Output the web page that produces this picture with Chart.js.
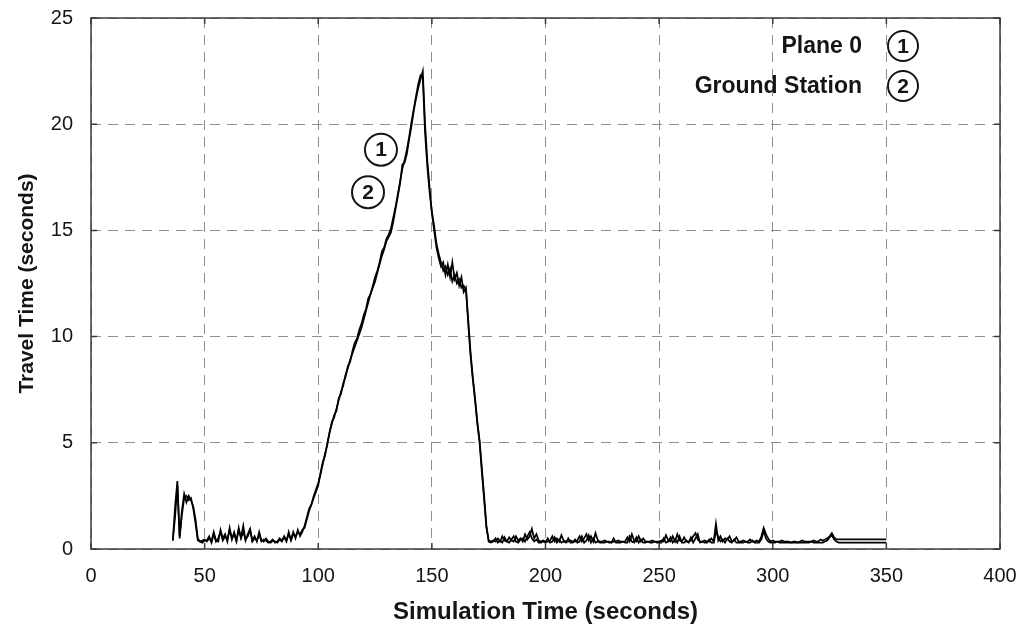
<!DOCTYPE html>
<html>
<head>
<meta charset="utf-8">
<script src="https://cdn.jsdelivr.net/npm/chart.js@4/dist/chart.umd.min.js"></script>
<style>
    html, body { margin: 0; padding: 0; background: #fff; }
    #chart { display: block; }
</style>
</head>
<body>
<canvas id="chart" width="1024" height="632"></canvas>
<script>
// one sample per second, first sample at T_START seconds
const T_START = 36;

const PLANE_0 = [
    0.4, 2.0, 3.2, 0.6, 1.8, 2.6, 2.2, 2.5, 2.3, 2.0,
    1.4, 0.5, 0.35, 0.4, 0.45, 0.35, 0.5, 0.35, 0.8, 0.4,
    0.35, 0.9, 0.5, 0.7, 0.35, 1.0, 0.45, 0.8, 0.4, 0.9,
    0.55, 1.1, 0.4, 0.7, 0.95, 0.4, 0.6, 0.35, 0.8, 0.4,
    0.35, 0.5, 0.35, 0.3, 0.4, 0.35, 0.3, 0.45, 0.35, 0.6,
    0.4, 0.7, 0.45, 0.8, 0.5, 0.9, 0.6, 0.8, 1.1, 1.5,
    1.9, 2.1, 2.5, 2.8, 3.1, 3.5, 4.0, 4.5, 4.9, 5.5,
    6.0, 6.2, 6.6, 7.0, 7.4, 7.7, 8.2, 8.5, 8.9, 9.2,
    9.5, 9.8, 10.1, 10.4, 10.8, 11.2, 11.6, 12.0, 12.3, 12.6,
    13.0, 13.4, 13.8, 14.1, 14.5, 14.7, 14.9, 15.4, 16.0, 16.6,
    17.2, 18.1, 18.2, 18.6, 19.3, 19.9, 20.6, 21.2, 21.7, 22.1,
    22.5, 20.0, 18.3, 17.0, 15.8, 15.0, 14.2, 13.7, 13.3, 13.5,
    12.9, 13.4, 12.8, 13.5, 12.7, 13.0, 12.4, 12.8, 12.1, 12.3,
    10.6, 9.1, 8.0, 7.0, 5.9, 5.0, 3.6, 2.3, 1.0, 0.4,
    0.35, 0.4, 0.35, 0.5, 0.35, 0.6, 0.4, 0.35, 0.55, 0.4,
    0.35, 0.6, 0.4, 0.5, 0.35, 0.7, 0.45, 0.6, 0.95, 0.5,
    0.7, 0.4, 0.35, 0.4, 0.35, 0.35, 0.4, 0.6, 0.35, 0.5,
    0.35, 0.65, 0.4, 0.35, 0.35, 0.4, 0.35, 0.35, 0.4, 0.6,
    0.35, 0.5, 0.7, 0.4, 0.6, 0.35, 0.75, 0.4, 0.35, 0.35,
    0.4, 0.35, 0.35, 0.3, 0.35, 0.35, 0.4, 0.35, 0.35, 0.35,
    0.55, 0.35, 0.7, 0.4, 0.35, 0.6, 0.35, 0.5, 0.35, 0.35,
    0.35, 0.4, 0.35, 0.35, 0.35, 0.4, 0.35, 0.65, 0.4, 0.35,
    0.6, 0.35, 0.7, 0.4, 0.35, 0.55, 0.35, 0.35, 0.4, 0.6,
    0.75, 0.45, 0.35, 0.35, 0.4, 0.35, 0.35, 0.5, 0.35, 1.2,
    0.4, 0.6, 0.35, 0.5, 0.45, 0.6, 0.35, 0.4, 0.55, 0.35,
    0.35, 0.4, 0.35, 0.35, 0.45, 0.35, 0.35, 0.4, 0.35, 0.6,
    1.0, 0.7, 0.5, 0.35, 0.4, 0.35, 0.35, 0.35, 0.4, 0.35,
    0.35, 0.35, 0.3, 0.35, 0.35, 0.3, 0.35, 0.4, 0.35, 0.35,
    0.35, 0.35, 0.4, 0.35, 0.35, 0.45, 0.4, 0.45, 0.5, 0.6,
    0.75, 0.55, 0.45, 0.45, 0.45, 0.45, 0.45, 0.45, 0.45, 0.45,
    0.45, 0.45, 0.45, 0.45, 0.45, 0.45, 0.45, 0.45, 0.45, 0.45,
    0.45, 0.45, 0.45, 0.45, 0.45
];

const GROUND_STATION = [
    0.4, 1.5, 3.0, 0.5, 1.6, 2.4, 2.5, 2.3, 2.4, 1.9,
    1.2, 0.4, 0.35, 0.3, 0.4, 0.4, 0.6, 0.3, 0.7, 0.35,
    0.5, 0.8, 0.4, 0.6, 0.45, 0.9, 0.5, 0.7, 0.35, 1.0,
    0.5, 0.8, 0.45, 0.6, 0.9, 0.35, 0.5, 0.4, 0.7, 0.35,
    0.45, 0.4, 0.3, 0.35, 0.45, 0.3, 0.35, 0.5, 0.4, 0.55,
    0.35, 0.8, 0.4, 0.7, 0.6, 0.8, 0.7, 0.9, 1.0, 1.4,
    1.8, 2.1, 2.4, 2.7, 3.0, 3.6, 4.1, 4.4, 5.0, 5.5,
    5.9, 6.3, 6.5, 7.1, 7.3, 7.8, 8.1, 8.6, 8.8, 9.3,
    9.7, 9.9, 10.3, 10.6, 11.0, 11.3, 11.8, 12.0, 12.4, 12.8,
    13.1, 13.5, 14.0, 14.2, 14.6, 14.8, 15.1, 15.6, 16.1, 16.7,
    17.3, 17.9, 18.3, 18.8, 19.4, 20.1, 20.7, 21.3, 21.9, 22.3,
    22.2, 19.6, 18.0, 16.8, 15.9, 15.2, 14.4, 13.9, 13.5, 13.1,
    13.3, 12.9, 13.2, 12.6, 12.9, 12.5, 12.7, 12.3, 12.4, 12.2,
    10.8, 9.3, 8.1, 7.1, 6.0, 5.1, 3.8, 2.5, 1.1, 0.35,
    0.3, 0.35, 0.5, 0.3, 0.4, 0.3, 0.55, 0.35, 0.3, 0.45,
    0.6, 0.35, 0.3, 0.45, 0.5, 0.35, 0.6, 0.8, 0.5, 0.35,
    0.45, 0.3, 0.3, 0.35, 0.3, 0.5, 0.3, 0.35, 0.55, 0.3,
    0.45, 0.3, 0.35, 0.3, 0.5, 0.3, 0.3, 0.45, 0.3, 0.35,
    0.6, 0.3, 0.4, 0.65, 0.3, 0.5, 0.3, 0.35, 0.3, 0.3,
    0.3, 0.35, 0.3, 0.3, 0.5, 0.3, 0.3, 0.3, 0.35, 0.3,
    0.3, 0.6, 0.35, 0.3, 0.55, 0.3, 0.45, 0.3, 0.3, 0.35,
    0.3, 0.3, 0.35, 0.3, 0.3, 0.3, 0.5, 0.3, 0.35, 0.55,
    0.3, 0.45, 0.3, 0.6, 0.3, 0.3, 0.4, 0.3, 0.55, 0.3,
    0.5, 0.7, 0.3, 0.35, 0.3, 0.3, 0.45, 0.3, 0.3, 0.8,
    0.6, 0.35, 0.45, 0.3, 0.5, 0.35, 0.3, 0.45, 0.3, 0.3,
    0.3, 0.3, 0.35, 0.3, 0.3, 0.4, 0.3, 0.3, 0.3, 0.45,
    0.85, 0.5, 0.35, 0.3, 0.3, 0.3, 0.35, 0.3, 0.3, 0.3,
    0.3, 0.3, 0.3, 0.3, 0.3, 0.3, 0.3, 0.3, 0.3, 0.3,
    0.3, 0.35, 0.3, 0.3, 0.3, 0.3, 0.3, 0.35, 0.4, 0.55,
    0.65, 0.45, 0.35, 0.3, 0.3, 0.3, 0.3, 0.3, 0.3, 0.3,
    0.3, 0.3, 0.3, 0.3, 0.3, 0.3, 0.3, 0.3, 0.3, 0.3,
    0.3, 0.3, 0.3, 0.3, 0.3
];

const X_TICKS = [0, 50, 100, 150, 200, 250, 300, 350, 400];
const Y_TICKS = [0, 5, 10, 15, 20, 25];
const SERIES_NAMES = ['Plane 0', 'Ground Station'];
const SERIES_MARKS = ['1', '2'];

const FONT = "'Liberation Sans', Arial, Helvetica, sans-serif";
const INK = '#151515';

function toPoints(values) {
    return values.map((v, i) => ({ x: T_START + i, y: v }));
}

function circledDigit(ctx, cx, cy, r, digit) {
    ctx.beginPath();
    ctx.arc(cx, cy, r, 0, Math.PI * 2);
    ctx.stroke();
    ctx.fillText(digit, cx, cy + 1);
}

// frame box, inward ticks, legend and the circled labels on the curves
const decorations = {
    id: 'decorations',
    afterDraw(chart) {
        const ctx = chart.ctx;
        const a = chart.chartArea;
        const xs = chart.scales.x;
        const ys = chart.scales.y;

        ctx.save();
        ctx.setLineDash([]);
        ctx.strokeStyle = '#3c3c3c';
        ctx.lineWidth = 1.5;
        ctx.strokeRect(a.left, a.top, a.right - a.left, a.bottom - a.top);

        ctx.beginPath();
        X_TICKS.forEach(v => {
            let px = xs.getPixelForValue(v);
            ctx.moveTo(px, a.bottom); ctx.lineTo(px, a.bottom - 6);
            ctx.moveTo(px, a.top); ctx.lineTo(px, a.top + 6);
        });
        Y_TICKS.forEach(v => {
            let py = ys.getPixelForValue(v);
            ctx.moveTo(a.left, py); ctx.lineTo(a.left + 6, py);
            ctx.moveTo(a.right, py); ctx.lineTo(a.right - 6, py);
        });
        ctx.stroke();

        // legend, top right
        ctx.fillStyle = INK;
        ctx.strokeStyle = INK;
        ctx.lineWidth = 2;
        ctx.textBaseline = 'middle';
        for (let i = 0; i < SERIES_NAMES.length; i++) {
            let rowY = a.top + 29 + i * 40;
            ctx.font = 'bold 23px ' + FONT;
            ctx.textAlign = 'right';
            ctx.fillText(SERIES_NAMES[i], a.right - 138, rowY);
            ctx.font = 'bold 21px ' + FONT;
            ctx.textAlign = 'center';
            circledDigit(ctx, a.right - 97, rowY - 1, 15, SERIES_MARKS[i]);
        }

        // labels placed beside the rising flank
        const markAt = [[127.6, 18.8], [121.9, 16.8]];
        ctx.font = 'bold 21px ' + FONT;
        for (let i = 0; i < markAt.length; i++) {
            let cx = xs.getPixelForValue(markAt[i][0]);
            let cy = ys.getPixelForValue(markAt[i][1]);
            circledDigit(ctx, cx, cy, 16, SERIES_MARKS[i]);
        }
        ctx.restore();
    }
};

const ctx = document.getElementById('chart').getContext('2d');

new Chart(ctx, {
    type: 'line',
    data: {
        datasets: [{
            label: SERIES_NAMES[0],
            data: toPoints(PLANE_0),
            borderColor: '#000',
            borderWidth: 1.7,
            pointRadius: 0,
            tension: 0
        }, {
            label: SERIES_NAMES[1],
            data: toPoints(GROUND_STATION),
            borderColor: '#000',
            borderWidth: 1.7,
            pointRadius: 0,
            tension: 0
        }]
    },
    options: {
        responsive: false,
        animation: false,
        layout: { padding: { top: 18, right: 24, left: 0, bottom: 0 } },
        plugins: {
            legend: { display: false },
            tooltip: { enabled: false }
        },
        scales: {
            x: {
                type: 'linear',
                min: 0,
                max: 400,
                afterBuildTicks: s => { s.ticks = X_TICKS.map(v => ({ value: v })); },
                afterFit: s => {
                    s.height = 83;
                    s.paddingLeft = 0;
                    s.paddingRight = 0;
                },
                grid: { color: '#8f8f8f', lineWidth: 1, drawTicks: false },
                border: { display: false, dash: [10, 7] },
                ticks: {
                    color: INK,
                    padding: 15,
                    maxRotation: 0,
                    font: { family: FONT, size: 20 }
                },
                title: {
                    display: true,
                    text: 'Simulation Time (seconds)',
                    color: INK,
                    padding: { top: 0, bottom: 5 },
                    font: { family: FONT, size: 24, weight: 'bold' }
                }
            },
            y: {
                min: 0,
                max: 25,
                afterBuildTicks: s => { s.ticks = Y_TICKS.map(v => ({ value: v })); },
                afterFit: s => {
                    s.width = 91;
                    s.paddingTop = 0;
                    s.paddingBottom = 0;
                },
                grid: { color: '#8f8f8f', lineWidth: 1, drawTicks: false },
                border: { display: false, dash: [10, 7] },
                ticks: {
                    color: INK,
                    padding: 18,
                    font: { family: FONT, size: 20 }
                },
                title: {
                    display: true,
                    text: 'Travel Time (seconds)',
                    color: INK,
                    padding: { top: 15, bottom: 0 },
                    font: { family: FONT, size: 21, weight: 'bold' }
                }
            }
        }
    },
    plugins: [decorations]
});
</script>
</body>
</html>
